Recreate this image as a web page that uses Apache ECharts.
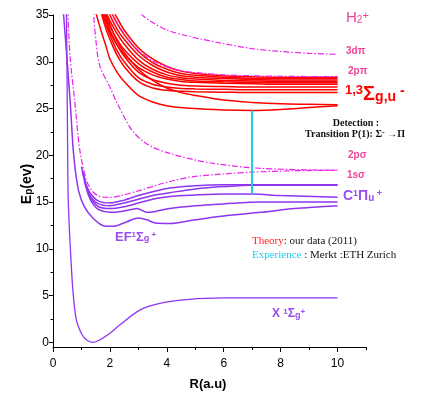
<!DOCTYPE html>
<html><head><meta charset="utf-8">
<script src="https://cdn.jsdelivr.net/npm/echarts@6/dist/echarts.min.js"></script>
<style>html,body{margin:0;padding:0;background:#fff}#c{width:421px;height:394px}</style>
</head><body><div id="c"></div>
<script>
// ---------- data (R in a.u., E in eV) ----------
const xTickLabels = [0, 2, 4, 6, 8, 10];
const xMinorTicks = [1, 3, 5, 7, 9, 11];
const yTickLabels = [0, 5, 10, 15, 20, 25, 30, 35];
const yMinorTicks = [2.5, 7.5, 12.5, 17.5, 22.5, 27.5, 32.5];

// purple: neutral H2 states
const rX  = [0.47,0.49,0.51,0.53,0.57,0.62,0.7,0.82,1.0,1.18,1.4,1.64,2.0,2.34,3.05,3.75,4.8,6,8,10];
const eX  = [36,30,22,16,12.5,9.5,5.5,2.4,0.95,0.25,0,0.25,0.96,1.85,3.45,4.17,4.6,4.75,4.76,4.76];
const rEF = [0.36,0.5,0.62,0.7,0.78,0.9,1.1,1.4,1.75,2.1,2.6,3.0,3.3,3.6,4.1,5,6,7.3,8.5,10];
const eEF = [35.5,30,25,21,18.5,16.2,14.5,13.3,12.5,12.4,12.9,13.3,13.1,12.75,12.7,13.1,13.5,13.9,14.3,14.6];
const rP1 = [1.0,1.15,1.3,1.6,2.0,2.5,3.0,3.5,4.1,5,6,7,8,10];
const eP1 = [18.8,17.0,16.0,15.1,14.9,15.2,15.7,16.1,16.5,16.75,16.85,16.85,16.85,16.85];
const rP2 = [1.03,1.17,1.32,1.6,2.0,2.5,3.0,3.5,4.1,5,6,7,8,10];
const eP2 = [18.3,16.6,15.6,14.8,14.6,14.9,15.3,15.7,16.0,16.4,16.65,16.8,16.8,16.8];
const rP3 = [1.08,1.2,1.35,1.6,2.0,2.5,3.0,3.5,4.1,5,6,7,8,10];
const eP3 = [17.9,16.3,15.3,14.5,14.3,14.5,14.9,15.3,15.6,15.75,15.85,15.85,15.7,15.5];
const rP4 = [1.1,1.25,1.4,1.6,2.0,2.4,2.75,2.95,3.3,3.6,4.1,5,6,7.3,10];
const eP4 = [17.3,15.7,14.8,14.2,13.9,14.0,14.2,14.3,13.9,14.0,14.3,14.6,14.8,15.0,15.0];

// magenta dash-dot: H2+ states
const r1s = [0.52,0.6,0.76,0.94,1.18,1.4,1.64,2.0,2.4,3.0,3.75,4.1,4.9,6,7,8.5,10];
const e1s = [35.5,30.5,25.9,20.6,17.3,16.1,15.6,15.5,15.7,16.2,16.9,17.2,17.7,18.0,18.2,18.35,18.4];
const r2ps = [1.4,1.5,1.64,2.0,2.25,2.77,3.3,4.1,5.5,7.3,10];
const e2ps = [36,32.5,29.6,27.3,25.6,22.7,21.2,20.2,19.2,18.6,18.4];
const r2pp = [1.7,2.0,2.5,3,3.5,4,4.5,5,6,7,8,9,10];
const e2pp = [38,35.6,33.0,31.2,30.1,29.45,29.05,28.85,28.6,28.5,28.45,28.42,28.4];
const r3dp = [2.9,3.1,3.5,4.0,4.8,5.9,7,8,9,10];
const e3dp = [36.2,35.1,34.2,33.4,32.7,32.0,31.4,31.1,30.9,30.8];

// red: 1,3 Sigma g,u - states (common R grid)
const rRed = [1.5,1.7,1.85,2.0,2.25,2.5,3.0,3.5,4.0,4.5,5,6,7,8,9,10];
const red1  = [42,39,37.3,36.2,34.7,33.4,31.5,30.3,29.5,29.0,28.75,28.5,28.4,28.35,28.35,28.35];
const red2  = [41.2,38.3,36.6,35.6,34.1,32.9,31.1,29.9,29.2,28.75,28.55,28.35,28.25,28.2,28.2,28.2];
const red3  = [40.4,37.6,36.0,35.0,33.5,32.4,30.7,29.6,28.9,28.5,28.35,28.2,28.1,28.05,28.05,28.05];
const red4  = [39.6,36.9,35.4,34.4,33.0,31.9,30.2,29.2,28.6,28.3,28.15,28.0,27.95,27.9,27.9,27.9];
const red5  = [38.8,36.2,34.8,33.8,32.4,31.3,29.8,28.9,28.35,28.1,27.95,27.85,27.8,27.75,27.75,27.75];
const red6  = [38,35.5,34.2,33.2,31.8,30.8,29.4,28.6,28.15,27.9,27.8,27.7,27.65,27.6,27.6,27.6];
const red7  = [39,36.2,34.6,33.4,31.8,30.6,28.9,28.1,27.7,27.5,27.4,27.35,27.3,27.3,27.3,27.3];
const red8  = [38.5,35.7,34.1,32.9,31.2,30.0,28.3,27.6,27.3,27.15,27.1,27.05,27.0,27.0,27.0,27.0];
const red9  = [38,35.2,33.6,32.4,30.7,29.5,27.9,27.2,26.95,26.85,26.8,26.75,26.7,26.7,26.7,26.7];
const red10 = [39,36.5,35.2,34.0,32.2,31.0,29.2,28.0,27.2,26.7,26.4,25.9,25.65,25.5,25.45,25.4];
const red11 = [35.3,33.2,31.8,30.3,28.9,27.9,26.4,25.7,25.3,25.1,25.0,24.85,24.8,24.9,25.1,25.3];

// cyan transition arrow
const arrowR = 7;
const arrowFrom = 15.9;
const arrowTo = 24.8;

// ---------- chart ----------
const PURPLE = '#8f35f0', MAG = '#ee22ee', RED = '#ff0000', PINK = '#ee4499', CYAN = '#1ccde8';
const SANS = 'Liberation Sans, Arial, sans-serif';
const SERIF = 'Liberation Serif, Times New Roman, serif';
const zip = (r, e) => r.map((v, i) => [v, e[i]]);

function curve(r, e, color, width, dash) {
  return {
    type: 'line', data: zip(r, e), showSymbol: false, symbol: 'none', smooth: 0.3,
    lineStyle: { color: color, width: width, type: dash ? [6, 2, 1.5, 2] : 'solid' },
    silent: true, animation: false
  };
}

const series = [];
[red1, red2, red3, red4, red5, red6, red7, red8, red9, red10, red11].forEach(e => series.push(curve(rRed, e, RED, 1.5, false)));
series.push(curve(r3dp, e3dp, MAG, 1.2, true));
series.push(curve(r2pp, e2pp, MAG, 1.2, true));
series.push(curve(r2ps, e2ps, MAG, 1.2, true));
series.push(curve(r1s, e1s, MAG, 1.2, true));
series.push(curve(rX, eX, PURPLE, 1.3, false));
series.push(curve(rEF, eEF, PURPLE, 1.5, false));
series.push(curve(rP1, eP1, PURPLE, 1.5, false));
series.push(curve(rP2, eP2, PURPLE, 1.5, false));
series.push(curve(rP3, eP3, PURPLE, 1.5, false));
series.push(curve(rP4, eP4, PURPLE, 1.5, false));
series.push({
  type: 'line', data: [[arrowR, arrowFrom]], showSymbol: false, lineStyle: { opacity: 0 }, silent: true,
  markLine: {
    silent: true, animation: false,
    symbol: ['none', 'path://M0,10L5,0L10,10L8.6,10L5,3L1.4,10Z'], symbolSize: [0, 9],
    label: { show: false },
    lineStyle: { color: CYAN, width: 2, type: 'solid' },
    data: [[{ coord: [arrowR, arrowFrom] }, { coord: [arrowR, arrowTo] }]]
  }
});

function txt(x, y, text, rich, align) {
  return { type: 'text', x: x, y: y, silent: true, z: 100,
    style: { text: text, rich: rich, verticalAlign: 'middle', align: align || 'left' } };
}
const B = (size, color, va, fam) => ({ fontSize: size, fontWeight: 'bold', fill: color, fontFamily: fam || SANS, lineHeight: size, verticalAlign: va || 'middle' });
const N = (size, color, va, fam) => ({ fontSize: size, fontWeight: 'normal', fill: color, fontFamily: fam || SANS, lineHeight: size, verticalAlign: va || 'middle' });

const graphics = [
  txt(346, 18, '{a|H}{b|2}{c|+}', { a: N(15, PINK), b: N(10, PINK, 'bottom'), c: N(11, PINK, 'top') }),
  txt(346, 51, '{a|3dπ}', { a: B(10, PINK) }),
  txt(348, 71, '{a|2pπ}', { a: B(10, PINK) }),
  txt(345, 94, '{a|1,3}{b|Σ}{c|g,u}{d| -}', { a: B(13, RED, 'top'), b: B(20, RED), c: B(14, RED, 'bottom'), d: B(14, RED, 'top') }),
  txt(356, 123, '{a|Detection :}', { a: B(10, '#111', 'middle', SERIF) }, 'center'),
  txt(355, 134, '{a|Transition P(1): Σ}{b|-}{a| →Π}', { a: B(10, '#111', 'middle', SERIF), b: B(8, '#111', 'top', SERIF) }, 'center'),
  txt(348, 155, '{a|2pσ}', { a: B(10, PINK) }),
  txt(347, 175, '{a|1sσ}', { a: B(10, PINK) }),
  txt(343, 196, '{a|C}{b|1}{a|Π}{c|u}{b| +}', { a: B(14, '#9a4cf0'), b: B(9, '#9a4cf0', 'top'), c: B(10, '#9a4cf0', 'bottom') }),
  txt(115, 237, '{a|EF}{b|1}{a|Σ}{c|g}{b| +}', { a: B(13, '#9a4cf0'), b: B(8, '#9a4cf0', 'top'), c: B(9, '#9a4cf0', 'bottom') }),
  txt(252, 241, '{r|Theory}{k|: our data (2011)}', { r: N(11, '#ff2020', 'middle', SERIF), k: N(11, '#111', 'middle', SERIF) }),
  txt(252, 255, '{c|Experience}{k| : Merkt :ETH Zurich}', { c: N(11, '#22ccee', 'middle', SERIF), k: N(11, '#111', 'middle', SERIF) }),
  txt(272, 314, '{a|X }{b|1}{a|Σ}{c|g}{b|+}', { a: B(12, '#9a4cf0'), b: B(8, '#9a4cf0', 'top'), c: B(9, '#9a4cf0', 'bottom') }),
  // axis names
  txt(208, 384, '{a|R(a.u)}', { a: B(13, '#000') }, 'center'),
  { type: 'text', x: 27, y: 184, rotation: Math.PI / 2, silent: true, z: 100,
    style: { text: '{a|E}{b|p}{a|(ev)}', rich: { a: B(14, '#000'), b: B(10, '#000', 'bottom') }, align: 'center', verticalAlign: 'middle' } }
];

const axisCommon = { splitLine: { show: false }, minorTick: { show: false } };
const option = {
  animation: false,
  backgroundColor: '#fff',
  grid: { left: 53, right: 55, top: 15, bottom: 47, containLabel: false },
  xAxis: [
    Object.assign({ type: 'value', min: 0, max: 11, position: 'bottom',
      axisLine: { show: true, onZero: false, lineStyle: { color: '#000', width: 1 } },
      axisTick: { show: true, length: 5, customValues: xTickLabels, lineStyle: { color: '#000' } },
      axisLabel: { customValues: xTickLabels, color: '#000', fontSize: 12, margin: 11, fontFamily: SANS } }, axisCommon),
    Object.assign({ type: 'value', min: 0, max: 11, position: 'bottom',
      axisLine: { show: false, onZero: false },
      axisTick: { show: true, length: 3, customValues: xMinorTicks, lineStyle: { color: '#000' } },
      axisLabel: { show: false } }, axisCommon)
  ],
  yAxis: [
    Object.assign({ type: 'value', min: -0.5, max: 35, position: 'left',
      axisLine: { show: true, onZero: false, lineStyle: { color: '#000', width: 1 } },
      axisTick: { show: true, length: 4, customValues: yTickLabels, lineStyle: { color: '#000' } },
      axisLabel: { customValues: yTickLabels, color: '#000', fontSize: 12, margin: 4, fontFamily: SANS } }, axisCommon),
    Object.assign({ type: 'value', min: -0.5, max: 35, position: 'left',
      axisLine: { show: false, onZero: false },
      axisTick: { show: true, length: 2.5, customValues: yMinorTicks, lineStyle: { color: '#000' } },
      axisLabel: { show: false } }, axisCommon)
  ],
  series: series,
  graphic: graphics
};
const chart = echarts.init(document.getElementById('c'), null, { renderer: 'canvas' });
chart.setOption(option);
</script></body></html>
